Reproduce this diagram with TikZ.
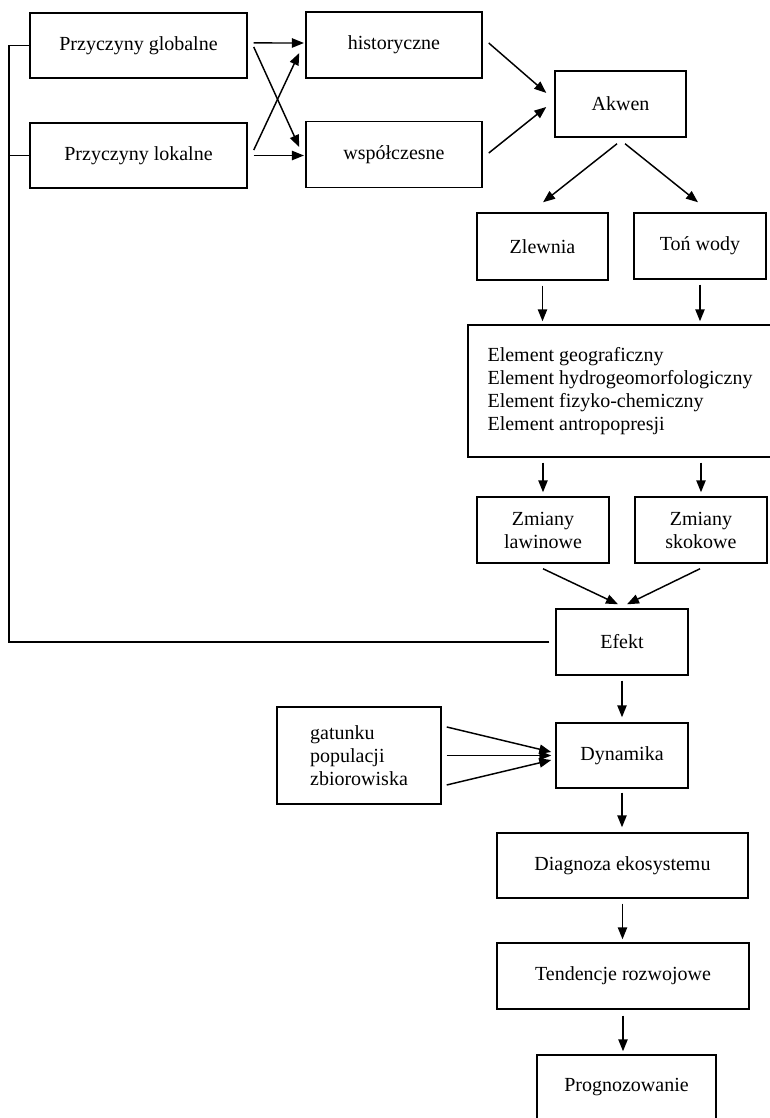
\documentclass[tikz,border=0pt]{standalone}
\usepackage{fontspec}
\setmainfont{Liberation Serif}
\usetikzlibrary{arrows.meta,positioning,calc}

\tikzset{
  box/.style={draw, line width=1.1pt, inner sep=0pt, align=center,
    minimum width=99pt, minimum height=49.5pt,
    font=\fontsize{15}{17.25}\selectfont},
  arr/.style={-{Triangle[length=9pt,width=7pt]}, line width=1.1pt},
  gapped/.style={shorten <=3.75pt, shorten >=2.25pt},
}

\begin{document}
\begin{tikzpicture}[x=0.75pt,y=-0.75pt]
    \useasboundingbox (0,0) rectangle (770,1118);

    \node[box, minimum width=162.75pt, minimum height=48.75pt] (glob) at (138.5,45.5) {Przyczyny globalne};
    \node[box, minimum width=162.75pt, minimum height=48.75pt] (lok) at (138.5,155.5) {Przyczyny lokalne};
    \node[box, minimum width=132pt] (hist) at (394,45) {historyczne};
    \node[box, minimum width=132pt] (wsp) at (394,154.5) {współczesne};
    \node[box, minimum width=98.25pt] (akw) at (620.5,104) {Akwen};
    \node[box, minimum width=98.25pt, minimum height=50.25pt] (zlew) at (542.5,246.5) {Zlewnia};
    \node[box] (ton) at (700,246) {Toń wody};
    \node[box, align=left, minimum width=228pt, minimum height=99pt] (elem) at (620,391)
        {Element geograficzny\\Element hydrogeomorfologiczny\\Element fizyko-chemiczny\\Element antropopresji};
    \node[box] (law) at (543,530) {Zmiany\\lawinowe};
    \node[box] (skok) at (701,530) {Zmiany\\skokowe};
    \node[box] (efekt) at (622,642) {Efekt};
    \node[box, minimum height=48.75pt] (dyn) at (622,755.5) {Dynamika};
    \node[box, align=left, minimum width=123pt, minimum height=72.75pt] (gat) at (359,755.5)
        {gatunku\\populacji\\zbiorowiska};
    \node[box, minimum width=188.25pt, minimum height=48.75pt] (diag) at (622.5,865.5) {Diagnoza ekosystemu};
    \node[box, minimum width=189pt] (tend) at (623,976) {Tendencje rozwojowe};
    \node[box, minimum width=134.25pt, minimum height=48.75pt] (prog) at (626.5,1087.5) {Prognozowanie};

    \draw[arr] ([xshift=4.5pt,yshift=1.9pt]glob.east) -- ([xshift=-1pt,yshift=1.5pt]hist.west);
    \draw[arr] ([xshift=4.5pt,yshift=-1.1pt]glob.east) -- ([xshift=-4.5pt,yshift=5.6pt]wsp.west);
    \draw[arr] ([xshift=4.5pt,yshift=4.1pt]lok.east) -- ([xshift=-4.5pt,yshift=-6pt]hist.west);
    \draw[arr] ([xshift=4.5pt]lok.east) -- ([xshift=-1pt]lok.east -| wsp.west);

    \draw[arr] ([xshift=4.5pt,yshift=1.5pt]hist.east) -- ([xshift=-6pt,yshift=8.3pt]akw.west);
    \draw[arr] ([xshift=4.5pt,yshift=1.1pt]wsp.east) -- ([xshift=-6pt,yshift=-2.25pt]akw.west);
    \draw[arr] ([xshift=-2.6pt,yshift=-4.5pt]akw.south) -- ([xshift=0.4pt,yshift=7.5pt]zlew.north);
    \draw[arr] ([xshift=3.4pt,yshift=-4.5pt]akw.south) -- ([xshift=-1.5pt,yshift=7.5pt]ton.north);

    \draw[arr, gapped] (zlew.south) -- (zlew.south |- elem.north);
    \draw[arr, gapped] (ton.south) -- (ton.south |- elem.north);
    \draw[arr, shorten <=3.75pt, shorten >=3pt] (law.north |- elem.south) -- (law.north);
    \draw[arr, shorten <=3.75pt, shorten >=3pt] (skok.north |- elem.south) -- (skok.north);

    \draw[arr] ([yshift=-3.75pt]law.south) -- ([xshift=-3pt,yshift=3pt]efekt.north);
    \draw[arr] ([xshift=-0.75pt,yshift=-3.75pt]skok.south) -- ([xshift=3.75pt,yshift=3pt]efekt.north);

    \coordinate (fb) at (9,642);
    \draw[line width=1.1pt] ([xshift=-4.5pt]efekt.west) -- (fb) |- (glob.west);
    \draw[line width=1.1pt] (fb |- lok.west) -- (lok.west);

    \draw[arr, shorten <=3.75pt, shorten >=3.75pt] (efekt.south) -- (dyn.north);
    \draw[arr] ([xshift=3.75pt,yshift=21.4pt]gat.east) -- ([xshift=-3pt,yshift=2.6pt]dyn.west);
    \draw[arr] ([xshift=3.75pt]gat.east) -- ([xshift=-3pt]dyn.west);
    \draw[arr] ([xshift=3.75pt,yshift=-22.1pt]gat.east) -- ([xshift=-3pt,yshift=-3.4pt]dyn.west);

    \draw[arr, shorten <=3pt, shorten >=3.75pt] (dyn.south) -- (dyn.south |- diag.north);
    \draw[arr, gapped] (diag.south) -- (diag.south |- tend.north);
    \draw[arr, shorten <=4.5pt, shorten >=2.25pt] (tend.south) -- (tend.south |- prog.north);
\end{tikzpicture}
\end{document}
